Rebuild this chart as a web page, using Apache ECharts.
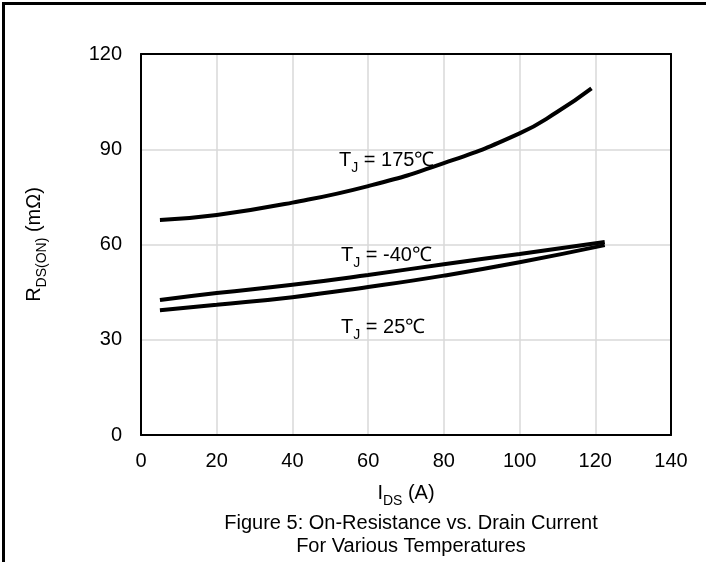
<!DOCTYPE html>
<html>
<head>
<meta charset="utf-8">
<script src="https://cdn.jsdelivr.net/npm/echarts@6/dist/echarts.min.js"></script>
<style>
html,body{margin:0;padding:0;background:#fff;}
#c{width:706px;height:562px;}
</style>
</head>
<body>
<div id="c"></div>
<script>
const xTicks = [0, 20, 40, 60, 80, 100, 120, 140];
const yTicks = [0, 30, 60, 90, 120];

const ids175 = [5, 20, 40, 60, 80, 100, 110, 119];
const r175 = [67.7, 69.3, 73.2, 78.4, 85.6, 95.0, 101.8, 109.2];

const idsM40 = [5, 20, 40, 60, 80, 100, 122.5];
const rM40 = [42.5, 44.7, 47.3, 50.4, 53.8, 57.0, 60.8];

const ids25 = [5, 20, 40, 60, 80, 100, 122.5];
const r25 = [39.3, 41.0, 43.4, 46.6, 50.2, 54.4, 59.8];

const labels = [
  { sub: 'J', rest: ' = 175℃', x: 339, y: 163 },
  { sub: 'J', rest: ' = -40℃', x: 341, y: 258 },
  { sub: 'J', rest: ' = 25℃', x: 341, y: 330 }
];

const FONT = '"Liberation Sans", Arial, sans-serif';
const FS = 20;
const chart = echarts.init(document.getElementById('c'));

function pairs(xs, ys) { return xs.map((x, i) => [x, ys[i]]); }

const richSub = {
  a: { fontSize: FS, fontFamily: FONT, color: '#000', verticalAlign: 'bottom', padding: [0, 0, 5, 0] },
  b: { fontSize: 14, fontFamily: FONT, color: '#000', verticalAlign: 'bottom', padding: [0, 0, 0, 0] }
};

const lineSeries = (name, xs, ys) => ({
  name, type: 'line', data: pairs(xs, ys), smooth: true, showSymbol: false,
  lineStyle: { color: '#000', width: 4 }, silent: true
});

chart.setOption({
  animation: false,
  backgroundColor: '#fff',
  grid: { left: 141, right: 35, top: 54, bottom: 127, containLabel: false },
  xAxis: [{
    type: 'value', min: xTicks[0], max: xTicks[xTicks.length - 1], interval: 20,
    axisLine: { show: true, onZero: false, lineStyle: { color: '#000', width: 2 } },
    axisTick: { show: false },
    splitLine: { show: true, lineStyle: { color: '#d9d9d9', width: 1.5 } },
    axisLabel: { fontSize: FS, fontFamily: FONT, color: '#000', margin: 16 },
    name: '{a|I}{b|DS}{a| (A)}', nameLocation: 'middle', nameGap: 48,
    nameTextStyle: { rich: richSub }
  }, {
    type: 'value', position: 'top', min: 0, max: 140,
    axisLine: { show: true, onZero: false, lineStyle: { color: '#000', width: 2 } },
    axisTick: { show: false }, axisLabel: { show: false }, splitLine: { show: false }
  }],
  yAxis: [{
    type: 'value', min: yTicks[0], max: yTicks[yTicks.length - 1], interval: 30,
    axisLine: { show: true, onZero: false, lineStyle: { color: '#000', width: 2 } },
    axisTick: { show: false },
    splitLine: { show: true, lineStyle: { color: '#d9d9d9', width: 1.5 } },
    axisLabel: { fontSize: FS, fontFamily: FONT, color: '#000', margin: 19 },
    name: '{a|R}{b|DS(ON)}{a| (mΩ)}', nameLocation: 'middle', nameGap: 92, nameRotate: 90,
    nameTextStyle: { rich: richSub }
  }, {
    type: 'value', position: 'right', min: 0, max: 120,
    axisLine: { show: true, onZero: false, lineStyle: { color: '#000', width: 2 } },
    axisTick: { show: false }, axisLabel: { show: false }, splitLine: { show: false }
  }],
  title: {
    text: 'Figure 5: On-Resistance vs. Drain Current\nFor Various Temperatures',
    left: 406, top: 507, textAlign: 'center',
    textStyle: { fontSize: FS, fontWeight: 'normal', fontFamily: FONT, color: '#000', lineHeight: 23 }
  },
  series: [
    lineSeries('175', ids175, r175),
    lineSeries('-40', idsM40, rM40),
    lineSeries('25', ids25, r25)
  ],
  graphic: [
    { type: 'rect', shape: { x: 2, y: 2, width: 3, height: 560 }, style: { fill: '#000' } },
    { type: 'rect', shape: { x: 2, y: 2, width: 704, height: 3 }, style: { fill: '#000' } }
  ].concat(labels.map(l => ({
    type: 'text', x: l.x, y: l.y, z: 100,
    style: {
      text: '{a|T}{b|' + l.sub + '}{a|' + l.rest + '}',
      rich: richSub, verticalAlign: 'middle', align: 'left'
    }
  })))
});
</script>
</body>
</html>
